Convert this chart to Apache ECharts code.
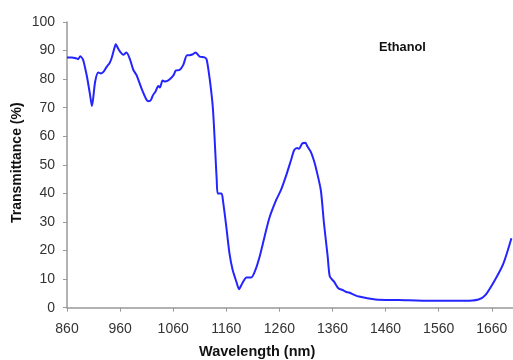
<!DOCTYPE html>
<html><head><meta charset="utf-8">
<script src="https://cdn.jsdelivr.net/npm/echarts@6/dist/echarts.min.js"></script>
<style>html,body{margin:0;padding:0;background:#fff}#c{width:513px;height:360px}</style>
</head><body><div id="c"></div>
<script>
const wavelength = [860, 869, 877, 881, 885, 890, 894, 898, 903, 907, 913, 919, 924, 929, 935, 940, 944, 948, 952, 956, 960, 966, 972, 979, 985, 991, 1001, 1010, 1014, 1018, 1022, 1027, 1032, 1035, 1040, 1044, 1050, 1057, 1061, 1065, 1072, 1079, 1086, 1091, 1097, 1102, 1110, 1119, 1123, 1129, 1135, 1142, 1144, 1151, 1154, 1160, 1166, 1172, 1179, 1184, 1190, 1198, 1207, 1216, 1223, 1229, 1241, 1254, 1263, 1273, 1282, 1288, 1294, 1297, 1303, 1309, 1313, 1319, 1325, 1329, 1338, 1344, 1351, 1355, 1363, 1371, 1379, 1385, 1391, 1410, 1441, 1485, 1547, 1610, 1635, 1648, 1666, 1682, 1697];
const transmittance = [87.6, 87.6, 87.3, 87.0, 88.0, 86.9, 84.0, 80.5, 75.0, 70.6, 79.1, 82.3, 82.0, 82.6, 84.4, 85.6, 87.3, 90.0, 92.2, 90.8, 89.6, 88.5, 89.3, 86.7, 83.2, 81.4, 76.4, 72.7, 72.3, 72.7, 74.4, 75.8, 77.6, 77.1, 79.5, 79.2, 79.5, 80.6, 81.5, 83.0, 83.2, 85.0, 88.4, 88.4, 88.7, 89.3, 87.9, 87.6, 86.9, 79.7, 69.2, 44.7, 40.0, 40.0, 37.1, 28.4, 19.0, 13.2, 9.1, 6.5, 8.5, 10.6, 10.6, 13.8, 18.0, 22.5, 31.3, 37.7, 41.2, 46.4, 51.7, 55.2, 55.9, 55.6, 57.5, 57.7, 56.4, 54.6, 51.5, 48.8, 41.2, 29.5, 17.9, 10.9, 9.1, 6.8, 6.2, 5.6, 5.3, 3.9, 2.9, 2.7, 2.4, 2.4, 2.9, 4.4, 9.7, 15.5, 24.3];
const xTicks = [860, 960, 1060, 1160, 1260, 1360, 1460, 1560, 1660];
const seriesName = 'Ethanol';
const xTitle = 'Wavelength (nm)';
const yTitle = 'Transmittance (%)';

const chart = echarts.init(document.getElementById('c'), null, {renderer: 'canvas'});
const font = 'Arial, "Liberation Sans", sans-serif';
chart.setOption({
  animation: false,
  grid: {left: 67, top: 22, width: 448, height: 285.7, containLabel: false},
  xAxis: {
    type: 'value', min: 860, max: 1700,
    axisLine: {show: true, lineStyle: {color: '#999', width: 1.5}},
    axisTick: {show: true, length: 4, lineStyle: {color: '#999'}, customValues: xTicks},
    axisLabel: {customValues: xTicks, color: '#333', fontSize: 14, fontFamily: font, margin: 14, formatter: v => String(v)},
    splitLine: {show: false}
  },
  yAxis: {
    type: 'value', min: 0, max: 100, interval: 10,
    axisLine: {show: true, lineStyle: {color: '#999', width: 1.5}},
    axisTick: {show: true, length: 4, lineStyle: {color: '#999'}},
    axisLabel: {color: '#333', fontSize: 14, fontFamily: font, margin: 12, formatter: v => String(v)},
    splitLine: {show: false}
  },
  graphic: [
    {type: 'text', left: 199, top: 344, style: {text: xTitle, font: 'bold 14.5px ' + font, fill: '#111'}},
    {type: 'text', x: 10, y: 223, rotation: Math.PI / 2, style: {text: yTitle, font: 'bold 14px ' + font, fill: '#111'}},
    {type: 'text', left: 379, top: 41, style: {text: seriesName, font: 'bold 12.8px ' + font, fill: '#111'}}
  ],
  series: [{
    type: 'line', name: seriesName, showSymbol: false, smooth: 0.25,
    data: wavelength.map((w, i) => [w, transmittance[i]]),
    lineStyle: {color: '#2424ff', width: 2},
    clip: true
  }]
});
</script></body></html>
